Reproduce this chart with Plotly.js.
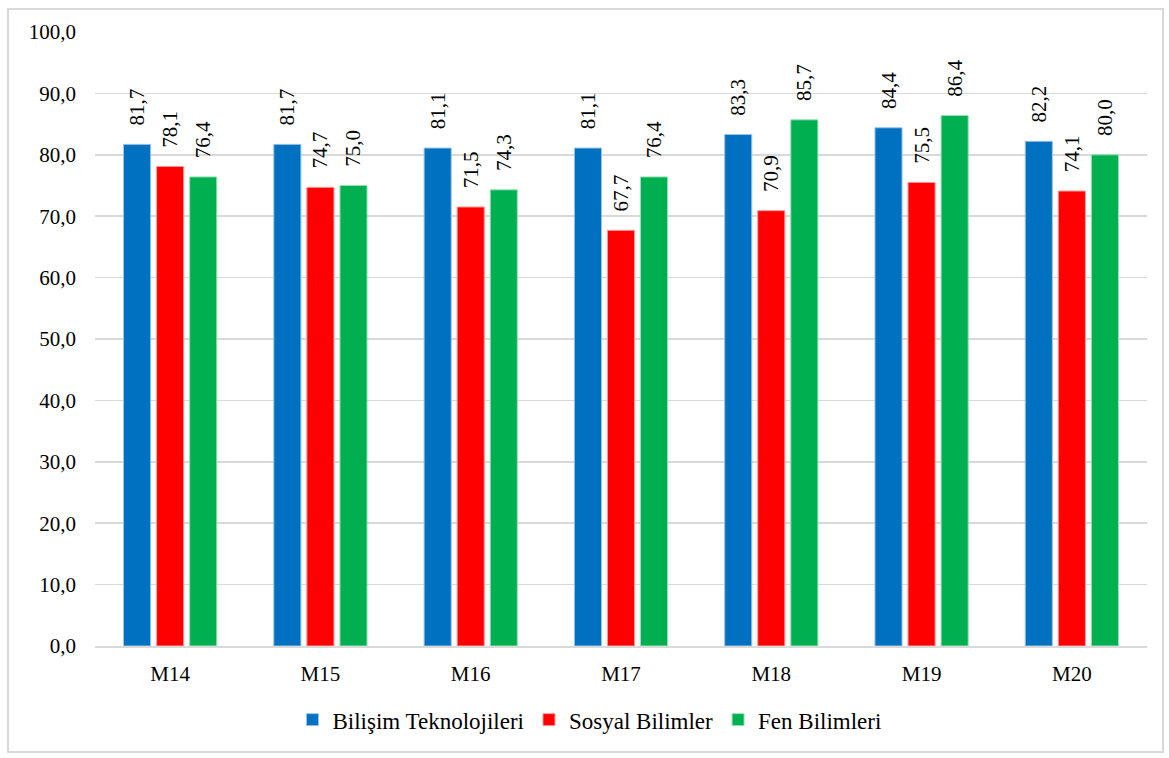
<!DOCTYPE html>
<html><head><meta charset="utf-8">
<script src="https://cdn.plot.ly/plotly-3.0.1.min.js"></script>
<style>
html,body{margin:0;padding:0;background:#fff;}
#frame{position:absolute;left:7px;top:8px;width:1153px;height:741px;border:2px solid #d9d9d9;}
#chart{position:absolute;left:0;top:0;width:1169px;height:758px;}
</style></head>
<body>
<div id="frame"></div>
<div id="chart"></div>
<script>
var categories = ["M14","M15","M16","M17","M18","M19","M20"];
var bilisim = [81.7, 81.7, 81.1, 81.1, 83.3, 84.4, 82.2];
var sosyal = [78.1, 74.7, 71.5, 67.7, 70.9, 75.5, 74.1];
var fen = [76.4, 75.0, 74.3, 76.4, 85.7, 86.4, 80.0];
var seriesNames = ["Bilişim Teknolojileri", "Sosyal Bilimler", "Fen Bilimleri"];
var colors = ["#0070c0", "#ff0000", "#00b050"];
var edges = ["#9dc3e6", "#ff9999", "#99e0b8"];
var tickVals = [0,10,20,30,40,50,60,70,80,90,100];

var font = "Liberation Serif, Times New Roman, serif";
var allSeries = [bilisim, sosyal, fen];
var data = allSeries.map(function(vals, i){
  return {
    type: 'bar', x: categories, y: vals, name: seriesNames[i],
    marker: {color: colors[i], line: {color: edges[i], width: 1}},
    texttemplate: '\u00a0\u00a0\u00a0%{y:.1f}', textposition: 'outside', textangle: -90,
    constraintext: 'none',
    textfont: {family: font, size: 21, color: '#000'},
    cliponaxis: false, hoverinfo: 'skip'
  };
});
var layout = {
  width: 1169, height: 758,
  margin: {l: 95, r: 22, t: 32, b: 112},
  paper_bgcolor: 'rgba(0,0,0,0)', plot_bgcolor: 'rgba(0,0,0,0)',
  separators: ',.',
  barmode: 'group', bargap: 0.34, bargroupgap: 0.18,
  font: {family: font, size: 21, color: '#000'},
  xaxis: {showgrid: false, showline: true, linecolor: '#d9d9d9', linewidth: 2,
          ticks: '', tickfont: {family: font, size: 21}, ticklabelstandoff: 8},
  yaxis: {range: [0, 100], tickvals: tickVals, tickformat: '.1f',
          showgrid: true, gridcolor: '#d9d9d9', gridwidth: 1.5, zeroline: false,
          showline: false, ticks: '', tickfont: {family: font, size: 21},
          ticklabelstandoff: 18},
  showlegend: true,
  legend: {orientation: 'h', x: 0.47, xanchor: 'center', y: -0.085, yanchor: 'top',
           font: {family: font, size: 23}, itemwidth: 30, traceorder: 'normal'}
};
Plotly.newPlot('chart', data, layout, {displayModeBar: false, staticPlot: true});
</script>
</body></html>
